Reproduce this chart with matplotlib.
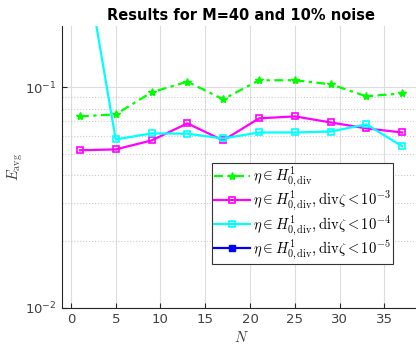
import numpy as np
import matplotlib
matplotlib.use("Agg")
from matplotlib import pyplot as plt

plt.rcParams['mathtext.fontset'] = 'dejavusans'

N = [1, 5, 9, 13, 17, 21, 25, 29, 33, 37]
e_plain = [0.0738, 0.0754, 0.0949, 0.106, 0.0882, 0.1076, 0.1076, 0.1032, 0.0910, 0.0939]
e_div3 = [0.0518, 0.0523, 0.0574, 0.0686, 0.0574, 0.0723, 0.0738, 0.0693, 0.0651, 0.0624]
e_div4 = [0.52, 0.0580, 0.0618, 0.0616, 0.0586, 0.0624, 0.0624, 0.0630, 0.0679, 0.0540]
e_div5 = [np.nan] * len(N)  # not visible in the chart

ytick_vals = [0.01, 0.1]

labels = [r'$\eta \in H^1_{0,\mathrm{div}}$',
          r'$\eta \in H^1_{0,\mathrm{div}}, \mathrm{div}\zeta < 10^{-3}$',
          r'$\eta \in H^1_{0,\mathrm{div}}, \mathrm{div}\zeta < 10^{-4}$',
          r'$\eta \in H^1_{0,\mathrm{div}}, \mathrm{div}\zeta < 10^{-5}$']

fig = plt.figure(figsize=(4.16, 3.44), dpi=100)
ax = fig.add_axes([0.149, 0.105, 0.861, 0.82])

ax.plot(N, e_plain, '-.', color=(0, 1, 0), lw=1.6, marker='*', ms=6, label=labels[0],
        dashes=(4, 2, 1.5, 2))
ax.plot(N, e_div3, '-', color=(1, 0, 1), lw=1.6, marker='s', ms=4.5, mfc='none', mew=1.2, label=labels[1])
ax.plot(N, e_div4, '-', color=(0, 1, 1), lw=1.6, marker='s', ms=4.5, mfc='none', mew=1.2, label=labels[2])
ax.plot(N, e_div5, '-', color=(0, 0, 1), lw=1.6, marker='s', ms=4, label=labels[3])

ax.set_yscale('log')
ax.set_ylim(0.01, 0.19)
ax.set_xlim(-1, 39)
ax.set_xticks(range(0, 40, 5))
ax.set_yticks(ytick_vals)
ax.grid(True, which='major', color='#dddddd', lw=0.8)
ax.grid(True, which='minor', axis='y', color='#cccccc', lw=0.8, ls=':')
ax.set_axisbelow(True)

for s in ['top', 'right']:
    ax.spines[s].set_visible(False)
for s in ['left', 'bottom']:
    ax.spines[s].set_color('#262626')
ax.tick_params(which='both', direction='in', colors='#262626', labelcolor='#404040', labelsize=9.5)
ax.tick_params(which='minor', length=0)

ax.set_title('Results for M=40 and 10% noise', fontweight='bold', fontsize=10.5, pad=4)
ax.set_xlabel(r'$N$', fontsize=10.5, labelpad=3, color='#404040', math_fontfamily='cm')
ax.set_ylabel(r'$E_{\rm avg}$', fontsize=10.5, labelpad=0, color='#404040', math_fontfamily='cm')

leg = ax.legend(loc='lower right', bbox_to_anchor=(0.925, 0.156), fontsize=10.5,
                handlelength=2.5, handletextpad=0.2, borderpad=0.15, labelspacing=0.0,
                borderaxespad=0, fancybox=False, framealpha=1, edgecolor='#333333')
leg.get_frame().set_linewidth(0.8)
for t in leg.get_texts():
    t.set_math_fontfamily('cm')

fig.savefig('out.png', dpi=100)
